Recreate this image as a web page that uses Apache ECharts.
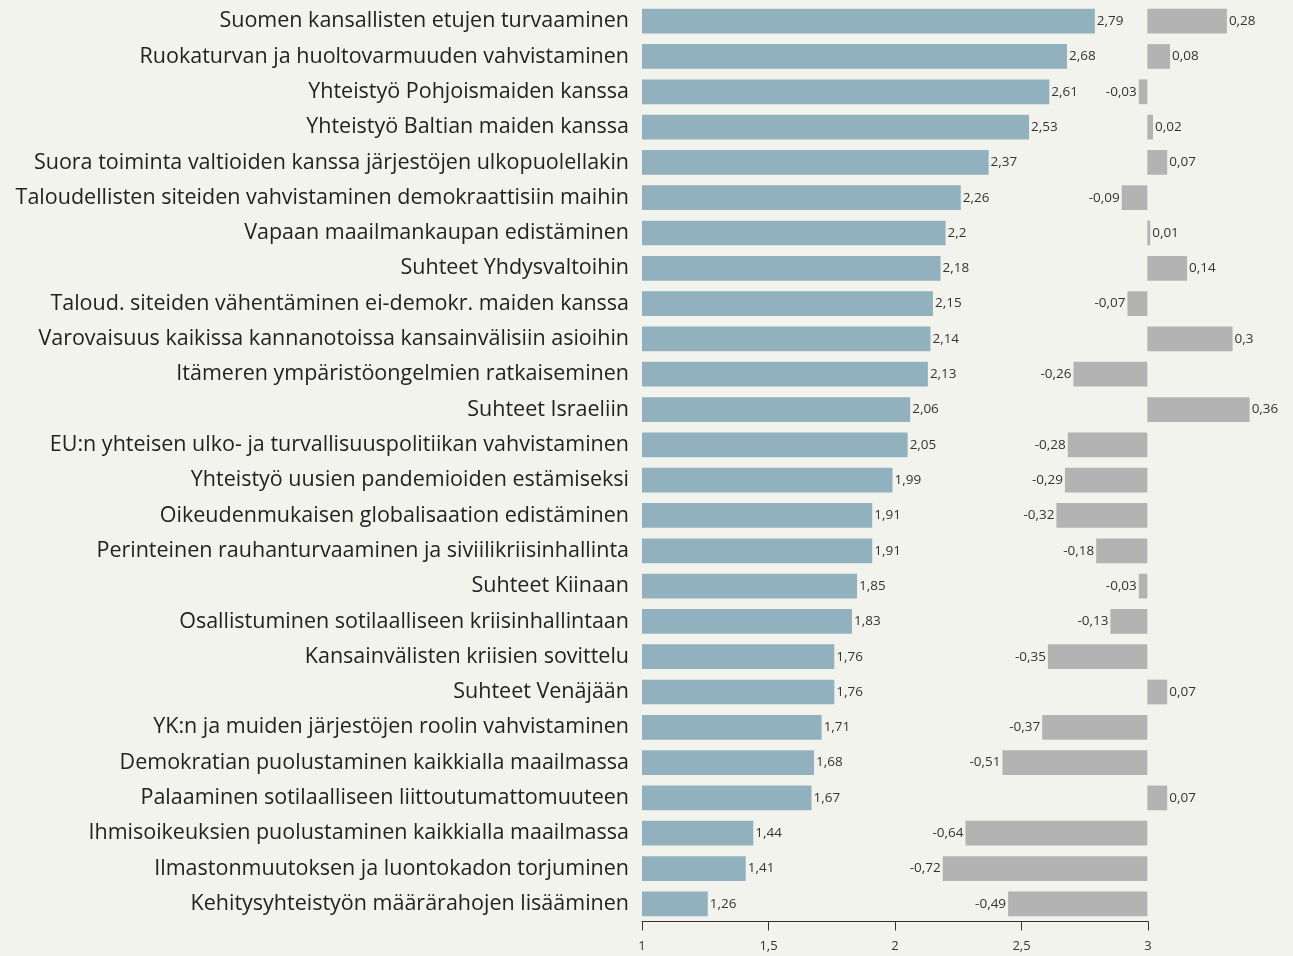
<!DOCTYPE html>
<html><head><meta charset="utf-8">
<script src="https://cdn.jsdelivr.net/npm/echarts@6/dist/echarts.min.js"></script>
<style>html,body{margin:0;padding:0;background:#f3f3ee}#c{width:1293px;height:956px}</style>
</head><body><div id="c"></div>
<script>
const categories = [
"Suomen kansallisten etujen turvaaminen",
"Ruokaturvan ja huoltovarmuuden vahvistaminen",
"Yhteistyö Pohjoismaiden kanssa",
"Yhteistyö Baltian maiden kanssa",
"Suora toiminta valtioiden kanssa järjestöjen ulkopuolellakin",
"Taloudellisten siteiden vahvistaminen demokraattisiin maihin",
"Vapaan maailmankaupan edistäminen",
"Suhteet Yhdysvaltoihin",
"Taloud. siteiden vähentäminen ei-demokr. maiden kanssa",
"Varovaisuus kaikissa kannanotoissa kansainvälisiin asioihin",
"Itämeren ympäristöongelmien ratkaiseminen",
"Suhteet Israeliin",
"EU:n yhteisen ulko- ja turvallisuuspolitiikan vahvistaminen",
"Yhteistyö uusien pandemioiden estämiseksi",
"Oikeudenmukaisen globalisaation edistäminen",
"Perinteinen rauhanturvaaminen ja siviilikriisinhallinta",
"Suhteet Kiinaan",
"Osallistuminen sotilaalliseen kriisinhallintaan",
"Kansainvälisten kriisien sovittelu",
"Suhteet Venäjään",
"YK:n ja muiden järjestöjen roolin vahvistaminen",
"Demokratian puolustaminen kaikkialla maailmassa",
"Palaaminen sotilaalliseen liittoutumattomuuteen",
"Ihmisoikeuksien puolustaminen kaikkialla maailmassa",
"Ilmastonmuutoksen ja luontokadon torjuminen",
"Kehitysyhteistyön määrärahojen lisääminen"
];
const meanValues = [2.79,2.68,2.61,2.53,2.37,2.26,2.2,2.18,2.15,2.14,2.13,2.06,2.05,1.99,1.91,1.91,1.85,1.83,1.76,1.76,1.71,1.68,1.67,1.44,1.41,1.26];
const changeValues = [0.28,0.08,-0.03,0.02,0.07,-0.09,0.01,0.14,-0.07,0.3,-0.26,0.36,-0.28,-0.29,-0.32,-0.18,-0.03,-0.13,-0.35,0.07,-0.37,-0.51,0.07,-0.64,-0.72,-0.49];
const tickLabels = ["1","1,5","2","2,5","3"];

const fmt = v => String(v).replace('.', ',');
const chart = echarts.init(document.getElementById('c'), null, {renderer:'canvas'});
const FONT = 'Open Sans';
const labelStyle = {fontFamily: FONT, fontSize: 13.5, color: '#333', distance: 2};
chart.setOption({
  backgroundColor: '#f3f3ee',
  animation: false,
  grid: [
    {left: 642, width: 506, top: 3.5, height: 918},
    {left: 920, width: 341, top: 3.5, height: 918}
  ],
  xAxis: [
    {gridIndex: 0, type: 'value', min: 1, max: 3, interval: 0.5,
     splitLine: {show: false},
     axisLine: {show: true, lineStyle: {color: '#333', width: 1}},
     axisTick: {show: true, length: 9, lineStyle: {color: '#333'}},
     axisLabel: {fontFamily: FONT, fontSize: 13, color: '#333', margin: 18,
       formatter: v => tickLabels[Math.round((v - 1) / 0.5)]}},
    {gridIndex: 1, type: 'value', min: -0.8, max: 0.4, show: false, splitLine: {show: false}}
  ],
  yAxis: [
    {gridIndex: 0, type: 'category', data: categories, inverse: true,
     axisLine: {show: false}, axisTick: {show: false},
     axisLabel: {fontFamily: FONT, fontSize: 21.5, color: '#222', margin: 13}},
    {gridIndex: 1, type: 'category', data: categories, inverse: true, show: false}
  ],
  series: [
    {type: 'bar', xAxisIndex: 0, yAxisIndex: 0, data: meanValues, barWidth: '70%',
     itemStyle: {color: '#91b1bf'},
     label: Object.assign({show: true, position: 'right', formatter: p => fmt(p.value)}, labelStyle)},
    {type: 'bar', xAxisIndex: 1, yAxisIndex: 1, barWidth: '70%',
     data: changeValues.map(v => ({value: v, label: {position: v < 0 ? 'left' : 'right'}})),
     itemStyle: {color: '#b3b3b3'},
     label: Object.assign({show: true, formatter: p => fmt(p.value)}, labelStyle)}
  ]
});
</script></body></html>
